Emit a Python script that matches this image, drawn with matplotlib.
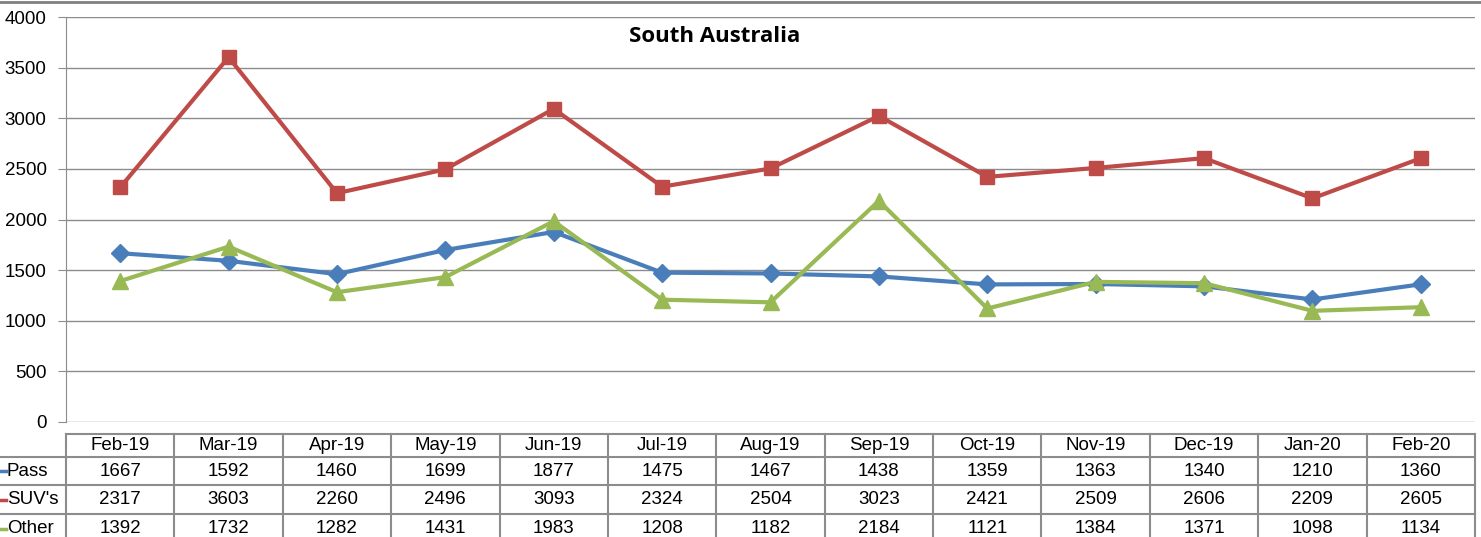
import matplotlib.pyplot as plt
from matplotlib.lines import Line2D

months = ["Feb-19", "Mar-19", "Apr-19", "May-19", "Jun-19", "Jul-19", "Aug-19",
          "Sep-19", "Oct-19", "Nov-19", "Dec-19", "Jan-20", "Feb-20"]
pass_vals = [1667, 1592, 1460, 1699, 1877, 1475, 1467, 1438, 1359, 1363, 1340, 1210, 1360]
suv_vals = [2317, 3603, 2260, 2496, 3093, 2324, 2504, 3023, 2421, 2509, 2606, 2209, 2605]
other_vals = [1392, 1732, 1282, 1431, 1983, 1208, 1182, 2184, 1121, 1384, 1371, 1098, 1134]

series = [
    ("Pass", pass_vals, "#4A7EBB", "D", 9),
    ("SUV's", suv_vals, "#BE4B48", "s", 10),
    ("Other", other_vals, "#98B954", "^", 11),
]

W, H = 1481, 537
fig = plt.figure(figsize=(W / 100, H / 100), dpi=100)
plt.rcParams['font.family'] = ['Liberation Sans', 'DejaVu Sans']

left, right, top, zero = 66, 1475, 17, 422
ax = fig.add_axes([left / W, 1 - zero / H, (right - left) / W, (zero - top) / H])

x = range(len(months))
for name, vals, color, marker, ms in series:
    ax.plot(x, vals, color=color, lw=3, marker=marker, markersize=ms, label=name)

ax.set_xlim(-0.5, len(months) - 0.5)
ax.set_ylim(0, 4000)
ax.set_yticks(range(0, 4001, 500))
ax.yaxis.grid(True, color="#8c8c8c", lw=1)
ax.set_axisbelow(True)
ax.set_xticks([])
for s in ["top", "right", "bottom"]:
    ax.spines[s].set_visible(False)
ax.spines["left"].set_color("#8c8c8c")
ax.tick_params(axis="y", length=6, color="#8c8c8c", labelsize=13.5, pad=8)

fig.text(715 / W, 1 - 36 / H, "South Australia", ha="center", va="center",
         fontsize=16, fontweight="bold", family=["Open Sans", "DejaVu Sans"])

# top border of the chart area
fig.add_artist(Line2D([0, 1], [1 - 1.5 / H, 1 - 1.5 / H], transform=fig.transFigure,
                      color="#7f7f7f", lw=2))

# data table under the chart
col_w = (right - left) / len(months)
row_lines = [434, 457, 485, 514, 543]
gcol = "#8c8c8c"


def fy(py):
    return 1 - py / H


for py in row_lines[:-1]:
    x0 = left if py == row_lines[0] else 0
    fig.add_artist(Line2D([x0 / W, right / W], [fy(py), fy(py)], transform=fig.transFigure,
                          color=gcol, lw=1.5))
for i in range(len(months) + 1):
    px = left + i * col_w
    fig.add_artist(Line2D([px / W, px / W], [fy(row_lines[0]), 0], transform=fig.transFigure,
                          color=gcol, lw=1.5))

for i, m in enumerate(months):
    cx = (left + (i + 0.5) * col_w) / W
    fig.text(cx, fy((row_lines[0] + row_lines[1]) / 2), m, ha="center", va="center", fontsize=13.5)
    for r, (name, vals, color, marker, ms) in enumerate(series):
        cy = fy((row_lines[r + 1] + row_lines[r + 2]) / 2)
        fig.text(cx, cy, str(vals[i]), ha="center", va="center", fontsize=13.5)

for r, (name, vals, color, marker, ms) in enumerate(series):
    cy = fy((row_lines[r + 1] + row_lines[r + 2]) / 2)
    fig.add_artist(Line2D([0, 6 / W], [cy, cy], transform=fig.transFigure, color=color, lw=2.5))
    fig.text(7 / W, cy, name, ha="left", va="center", fontsize=13.5)

fig.savefig("out.png", dpi=100)
